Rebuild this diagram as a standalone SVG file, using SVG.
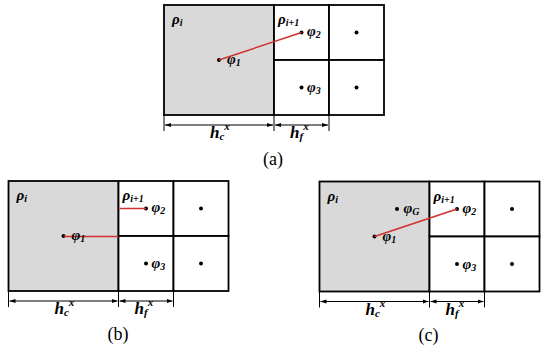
<svg xmlns="http://www.w3.org/2000/svg" width="550" height="349" viewBox="0 0 550 349">
<style>
.bg{fill:#ffffff}
.coarse{fill:#d9d9d9;stroke:#000;stroke-width:1.8}
.fine{fill:#ffffff;stroke:#000;stroke-width:1.8}
.dot{fill:#000}
.red{stroke:#d0302e;stroke-width:1.5;fill:none}
.dim{stroke:#000;stroke-width:1;fill:none}
.tick{stroke:#000;stroke-width:1;fill:none}
text{font-family:'Liberation Serif','Times New Roman',serif}
.lab{font-weight:bold;font-style:italic;font-size:15px;fill:#000}
.hl{font-weight:bold;font-style:italic;font-size:17px;fill:#000}
.cap{font-size:18px;fill:#000}
</style>
<defs>
<marker id="ah" viewBox="0 0 10 10" refX="10" refY="5" markerWidth="6" markerHeight="6" orient="auto-start-reverse" markerUnits="userSpaceOnUse">
<path d="M0,1.5 L10,5 L0,8.5 z" fill="#000"/>
</marker>
</defs>
<rect class="bg" x="0" y="0" width="550" height="349"/>

<!-- Panel (a) -->
<g id="panel-a" transform="translate(164,5)">
<g id="a-coarse"><rect class="coarse" x="0" y="0" width="110" height="110"/>
<circle class="dot" cx="55" cy="55" r="2"/></g>
<g id="a-fine1"><rect class="fine" x="110" y="0" width="55" height="55"/><circle class="dot" cx="137.5" cy="27.5" r="2"/></g>
<g id="a-fine2"><rect class="fine" x="165" y="0" width="55" height="55"/><circle class="dot" cx="192.5" cy="27.5" r="2"/></g>
<g id="a-fine3"><rect class="fine" x="110" y="55" width="55" height="55"/><circle class="dot" cx="137.5" cy="82.5" r="2"/></g>
<g id="a-fine4"><rect class="fine" x="165" y="55" width="55" height="55"/><circle class="dot" cx="192.5" cy="82.5" r="2"/></g>
<g id="a-connectors">
<line class="red" x1="55" y1="55" x2="137.5" y2="27.5"/>
<line class="tick" x1="0" y1="110" x2="0" y2="126"/>
<line class="tick" x1="110" y1="110" x2="110" y2="126"/>
<line class="tick" x1="165" y1="110" x2="165" y2="126"/>
<line class="dim" x1="1" y1="120" x2="109" y2="120" marker-start="url(#ah)" marker-end="url(#ah)"/>
<line class="dim" x1="111" y1="120" x2="164" y2="120" marker-start="url(#ah)" marker-end="url(#ah)"/>
</g>
<text class="lab" x="8" y="19">ρ<tspan font-size="10" dy="2">i</tspan></text>
<text class="lab" x="114" y="19">ρ<tspan font-size="10" dy="2">i+1</tspan></text>
<text class="lab" x="63" y="59">φ<tspan font-size="10" dy="2">1</tspan></text>
<text class="lab" x="143" y="31">φ<tspan font-size="10" dy="2">2</tspan></text>
<text class="lab" x="143" y="87">φ<tspan font-size="10" dy="2">3</tspan></text>
<text class="hl" x="46" y="133">h<tspan font-size="11" dy="2">c</tspan><tspan font-size="11" dy="-10">x</tspan></text>
<text class="hl" x="126" y="133">h<tspan font-size="11" dy="2">f</tspan><tspan font-size="11" dy="-10">x</tspan></text>
<text class="cap" x="109" y="160" text-anchor="middle">(a)</text>
</g>

<!-- Panel (b) -->
<g id="panel-b" transform="translate(8.5,181)">
<g id="b-coarse"><rect class="coarse" x="0" y="0" width="110" height="110"/>
<circle class="dot" cx="55" cy="55" r="2"/></g>
<g id="b-fine1"><rect class="fine" x="110" y="0" width="55" height="55"/><circle class="dot" cx="137.5" cy="27.5" r="2"/></g>
<g id="b-fine2"><rect class="fine" x="165" y="0" width="55" height="55"/><circle class="dot" cx="192.5" cy="27.5" r="2"/></g>
<g id="b-fine3"><rect class="fine" x="110" y="55" width="55" height="55"/><circle class="dot" cx="137.5" cy="82.5" r="2"/></g>
<g id="b-fine4"><rect class="fine" x="165" y="55" width="55" height="55"/><circle class="dot" cx="192.5" cy="82.5" r="2"/></g>
<g id="b-connectors">
<line class="red" x1="55" y1="55.5" x2="110" y2="55.5"/>
<line class="red" x1="111" y1="27.5" x2="137.5" y2="27.5"/>
<line class="tick" x1="0" y1="110" x2="0" y2="126"/>
<line class="tick" x1="110" y1="110" x2="110" y2="126"/>
<line class="tick" x1="165" y1="110" x2="165" y2="126"/>
<line class="dim" x1="1" y1="120" x2="109" y2="120" marker-start="url(#ah)" marker-end="url(#ah)"/>
<line class="dim" x1="111" y1="120" x2="164" y2="120" marker-start="url(#ah)" marker-end="url(#ah)"/>
</g>
<text class="lab" x="8" y="19">ρ<tspan font-size="10" dy="2">i</tspan></text>
<text class="lab" x="114" y="19">ρ<tspan font-size="10" dy="2">i+1</tspan></text>
<text class="lab" x="63" y="59">φ<tspan font-size="10" dy="2">1</tspan></text>
<text class="lab" x="143" y="31">φ<tspan font-size="10" dy="2">2</tspan></text>
<text class="lab" x="143" y="87">φ<tspan font-size="10" dy="2">3</tspan></text>
<text class="hl" x="46" y="133">h<tspan font-size="11" dy="2">c</tspan><tspan font-size="11" dy="-10">x</tspan></text>
<text class="hl" x="126" y="133">h<tspan font-size="11" dy="2">f</tspan><tspan font-size="11" dy="-10">x</tspan></text>
<text class="cap" x="109.5" y="159" text-anchor="middle">(b)</text>
</g>

<!-- Panel (c) -->
<g id="panel-c" transform="translate(319.5,181.5)">
<g id="c-coarse"><rect class="coarse" x="0" y="0" width="110" height="110"/>
<circle class="dot" cx="55" cy="55" r="2"/><circle class="dot" cx="77.5" cy="27.5" r="2"/></g>
<g id="c-fine1"><rect class="fine" x="110" y="0" width="55" height="55"/><circle class="dot" cx="137.5" cy="27.5" r="2"/></g>
<g id="c-fine2"><rect class="fine" x="165" y="0" width="55" height="55"/><circle class="dot" cx="192.5" cy="27.5" r="2"/></g>
<g id="c-fine3"><rect class="fine" x="110" y="55" width="55" height="55"/><circle class="dot" cx="137.5" cy="82.5" r="2"/></g>
<g id="c-fine4"><rect class="fine" x="165" y="55" width="55" height="55"/><circle class="dot" cx="192.5" cy="82.5" r="2"/></g>
<g id="c-connectors">
<line class="red" x1="55" y1="55" x2="137.5" y2="27.5"/>
<line class="tick" x1="0" y1="110" x2="0" y2="126"/>
<line class="tick" x1="110" y1="110" x2="110" y2="126"/>
<line class="tick" x1="165" y1="110" x2="165" y2="126"/>
<line class="dim" x1="1" y1="120" x2="109" y2="120" marker-start="url(#ah)" marker-end="url(#ah)"/>
<line class="dim" x1="111" y1="120" x2="164" y2="120" marker-start="url(#ah)" marker-end="url(#ah)"/>
</g>
<text class="lab" x="8" y="19">ρ<tspan font-size="10" dy="2">i</tspan></text>
<text class="lab" x="114" y="19">ρ<tspan font-size="10" dy="2">i+1</tspan></text>
<text class="lab" x="84" y="31">φ<tspan font-size="10" dy="2">G</tspan></text>
<text class="lab" x="63" y="59">φ<tspan font-size="10" dy="2">1</tspan></text>
<text class="lab" x="143" y="31">φ<tspan font-size="10" dy="2">2</tspan></text>
<text class="lab" x="143" y="87">φ<tspan font-size="10" dy="2">3</tspan></text>
<text class="hl" x="46" y="133">h<tspan font-size="11" dy="2">c</tspan><tspan font-size="11" dy="-10">x</tspan></text>
<text class="hl" x="126" y="133">h<tspan font-size="11" dy="2">f</tspan><tspan font-size="11" dy="-10">x</tspan></text>
<text class="cap" x="109" y="159" text-anchor="middle">(c)</text>
</g>
</svg>
